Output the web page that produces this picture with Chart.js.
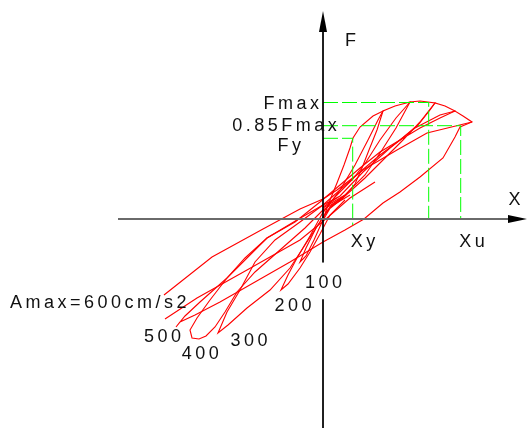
<!DOCTYPE html>
<html>
<head>
<meta charset="utf-8">
<script src="https://cdn.jsdelivr.net/npm/chart.js@4.4.0/dist/chart.umd.min.js"></script>
<style>
  html, body { margin: 0; padding: 0; background: #ffffff; }
  #wrap { width: 528px; height: 428px; position: relative; }
</style>
</head>
<body>
<div id="wrap"><canvas id="c"></canvas></div>
<script>
// Force–displacement hysteresis loops (X: displacement, F: force), one per input amplitude.
const loop100X = [0, 7, 14, 21, 27, 30, 37, 50, 60, 54, 46, 39, 32, 20, 5, -7, -17, -23, -17, -9, -1, 9, 22];
const loop100Y = [0, 19, 36, 54, 71, 81, 92, 103, 108, 89, 69, 51, 35, 21, 9, -9, -29, -43, -37, -21, -3, 14, 24];

const loop200X = [0, 17, 32, 45, 55, 60, 72, 87, 73, 57, 43, 29, 13, -1, -13, -26, -35, -42, -35, -23, -13, -3, 7, 22];
const loop200Y = [7, 29, 54, 79, 99, 108, 113, 117, 101, 79, 57, 39, 23, 5, -17, -39, -56, -71, -65, -49, -33, -15, 4, 19];

const loop300X = [0, 22, 42, 59, 73, 87, 97, 112, 107, 95, 77, 57, 37, 17, 0, -23, -48, -68, -83, -96, -105, -95, -76, -53, -33, -18, -5, 7, 27];
const loop300Y = [11, 24, 44, 69, 91, 117, 118, 116, 109, 94, 79, 64, 47, 29, 14, -3, -21, -43, -71, -93, -114, -106, -89, -71, -49, -26, -6, 12, 24];

const loop400X = [0, 22, 42, 62, 80, 97, 112, 122, 132, 117, 97, 77, 57, 37, 17, -3, -28, -56, -78, -96, -113, -126, -133, -131, -124, -117, -108, -98, -86, -68, -43, -18, 0, 22];
const loop400Y = [9, 23, 41, 61, 79, 97, 116, 113, 108, 101, 91, 79, 67, 51, 34, 17, -3, -19, -39, -59, -81, -99, -111, -119, -120, -117, -108, -93, -73, -53, -31, -9, 9, 23];

const loop500X = [0, 17, 40, 67, 92, 117, 132, 140, 149, 137, 132, 120, 97, 77, 60, 41, 22, 0, -33, -68, -103, -128, -143, -147, -138, -123, -96, -56, -26, 0, 17];
const loop500Y = [12, 23, 47, 71, 91, 104, 108, 103, 97, 92, 82, 61, 42, 27, 16, 0, -11, -23, -43, -63, -83, -96, -103, -108, -97, -83, -59, -19, -1, 14, 23];

const loop600aX = [149, 104, 74, 40, 14, 0, -23, -60, -111, -159];
const loop600aY = [97, 86, 69, 49, 29, 20, 10, -10, -38, -76];
const loop600bX = [52, 27, 4, -23, -76, -126, -158];
const loop600bY = [37, 21, 1, -21, -51, -79, -100];

// Characteristic points
const fMax = 116.5;   // peak force
const xFmax = 105.7;  // displacement at peak force
const fU = 93.3;      // 0.85Fmax level
const xU = 137.7;     // ultimate displacement Xu
const fY = 80.7;      // yield force Fy
const xY = 29.7;      // yield displacement Xy

const ampLabels = ['100', '200', '300', '400', '500'];
const titleLabel = 'Amax=600cm/s2';

const pts = (xs, ys) => xs.map((x, i) => ({ x, y: ys[i] }));

const red = '#ff0000';
const green = '#00ff00';

const loopSet = [
  [loop100X, loop100Y], [loop200X, loop200Y], [loop300X, loop300Y],
  [loop400X, loop400Y], [loop500X, loop500Y], [loop600aX, loop600aY], [loop600bX, loop600bY]
];

const datasets = [];

// coordinate axes
datasets.push({ data: [{ x: -205, y: 0 }, { x: 186, y: 0 }], borderColor: '#6a6a6a', borderWidth: 2 });
datasets.push({ data: [{ x: 0, y: 192 }, { x: 0, y: -43.4 }], borderColor: '#000000', borderWidth: 1 });
datasets.push({ data: [{ x: 0, y: -80.4 }, { x: 0, y: -212 }], borderColor: '#000000', borderWidth: 1 });

// characteristic-point guide lines
const dash = [15, 4];
datasets.push({ data: [{ x: 0, y: fMax }, { x: xFmax, y: fMax }, { x: xFmax, y: 0 }], borderColor: green, borderWidth: 1, borderDash: dash });
datasets.push({ data: [{ x: 0, y: fU }, { x: xU, y: fU }, { x: xU, y: 0 }], borderColor: green, borderWidth: 1, borderDash: dash });
datasets.push({ data: [{ x: 0, y: fY }, { x: xY, y: fY }, { x: xY, y: -6 }], borderColor: green, borderWidth: 1, borderDash: dash });

loopSet.forEach(([xs, ys]) => {
  datasets.push({ data: pts(xs, ys), borderColor: red, borderWidth: 1.1 });
});

datasets.forEach(d => {
  d.showLine = true;
  d.pointRadius = 0;
  d.pointHoverRadius = 0;
  d.fill = false;
  d.tension = 0;
});

function spacedText(ctx, text, x, y, align) {
  const gap = 3.5;
  let total = 0;
  const widths = [...text].map(ch => ctx.measureText(ch).width);
  widths.forEach((w, i) => { total += w + (i < widths.length - 1 ? gap : 0); });
  let cx = align === 'right' ? x - total : x;
  [...text].forEach((ch, i) => {
    ctx.fillText(ch, cx, y);
    cx += widths[i] + gap;
  });
}

const decorations = {
  id: 'decorations',
  afterDatasetsDraw(chart) {
    const { ctx } = chart;
    const sx = chart.scales.x, sy = chart.scales.y;
    const X = v => sx.getPixelForValue(v);
    const Y = v => sy.getPixelForValue(v);
    ctx.save();

    // arrow heads
    ctx.fillStyle = '#000000';
    ctx.beginPath();
    ctx.moveTo(X(0), Y(208));
    ctx.lineTo(X(0) - 4, Y(187));
    ctx.lineTo(X(0) + 4, Y(187));
    ctx.closePath();
    ctx.fill();
    ctx.beginPath();
    ctx.moveTo(X(204), Y(0));
    ctx.lineTo(X(185), Y(0) - 4);
    ctx.lineTo(X(185), Y(0) + 4);
    ctx.closePath();
    ctx.fill();

    // text
    ctx.fillStyle = '#111111';
    ctx.font = '18px "Liberation Sans", Arial, sans-serif';
    ctx.textBaseline = 'alphabetic';
    spacedText(ctx, 'F', X(22), Y(173), 'left');
    spacedText(ctx, 'X', X(185.4), Y(14), 'left');
    spacedText(ctx, 'Fmax', X(-4), Y(109.6), 'right');
    spacedText(ctx, '0.85Fmax', X(13.7), Y(88.4), 'right');
    spacedText(ctx, 'Fy', X(-22), Y(68.5), 'right');
    spacedText(ctx, 'Xy', X(27.7), Y(-27.7), 'left');
    spacedText(ctx, 'Xu', X(136.3), Y(-27.7), 'left');

    const ampPos = [[-18, -68.6], [-48.6, -92.2], [-92.4, -126.6], [-141.2, -140], [-179, -123.2]];
    ampLabels.forEach((t, i) => spacedText(ctx, t, X(ampPos[i][0]), Y(ampPos[i][1]), 'left'));
    spacedText(ctx, titleLabel, X(-313), Y(-88.8), 'left');
    ctx.restore();
  }
};

new Chart(document.getElementById('c'), {
  type: 'scatter',
  data: { datasets },
  options: {
    responsive: true,
    maintainAspectRatio: false,
    animation: false,
    events: [],
    layout: { padding: 0 },
    plugins: { legend: { display: false }, tooltip: { enabled: false } },
    scales: {
      x: { type: 'linear', min: -323, max: 205, display: false },
      y: { type: 'linear', min: -209, max: 219, display: false }
    }
  },
  plugins: [decorations]
});
</script>
</body>
</html>
